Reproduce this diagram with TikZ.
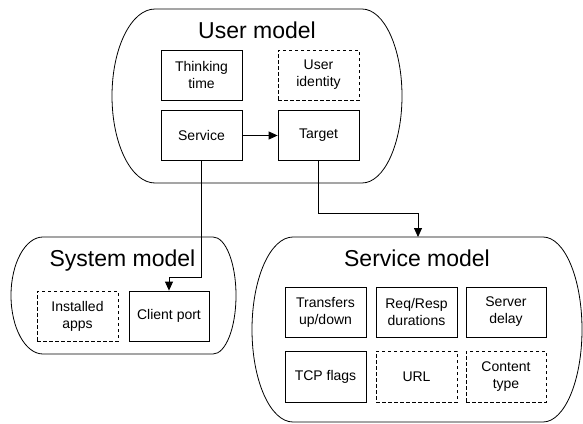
\documentclass[tikz,border=0pt]{standalone}
\usepackage{fontspec}
\setmainfont{Liberation Sans}
\usetikzlibrary{arrows.meta}
\begin{document}
\begin{tikzpicture}[x=1pt,y=1pt,
  cont/.style={draw, line width=0.8pt},
  box/.style={draw, line width=0.8pt, minimum width=81pt, minimum height=50pt, inner sep=0pt,
    align=center, font=\fontsize{14pt}{17pt}\selectfont},
  dbox/.style={box, dash pattern=on 3.5pt off 2.5pt},
  title/.style={anchor=base, inner sep=0pt, font=\fontsize{23pt}{27pt}\selectfont},
  conn/.style={draw, line width=0.8pt, -{Triangle[length=9pt,width=8pt]}}]
\useasboundingbox (0,0) rectangle (583,-423);
% containers
\draw[cont] (155,-9) -- (362,-9) arc[start angle=90,end angle=-90,x radius=40,y radius=87]
  -- (155,-183) arc[start angle=270,end angle=90,x radius=43,y radius=87] -- cycle;
\draw[cont] (43,-237) -- (213,-237) arc[start angle=90,end angle=-90,x radius=23,y radius=58.5]
  -- (43,-354) arc[start angle=270,end angle=90,x radius=32,y radius=58.5] -- cycle;
\draw[cont] (293,-237) -- (543,-237) arc[start angle=90,end angle=-90,x radius=39,y radius=92.5]
  -- (293,-422) arc[start angle=270,end angle=90,x radius=41,y radius=92.5] -- cycle;
\coordinate (smtop) at (418,-237);
% titles
\node[title] (ut) at (257,-38) {User model};
\node[title] (syt) at (122.5,-266) {System model};
\node[title] (set) at (417,-266) {Service model};
% user model boxes
\node[box] (think) at (201.5,-75) {Thinking\\time};
\node[dbox] (uid) at (318.5,-75) {User\\identity};
\node[box] (svc) at (201.5,-135.5) {Service};
\node[box] (tgt) at (318.5,-135.5) {Target};
% system model boxes
\node[dbox] (apps) at (77.5,-316) {Installed\\apps};
\node[box, minimum width=80pt] (cport) at (169,-316) {Client port};
% service model boxes
\node[box] (xfer) at (325.5,-312) {Transfers\\up/down};
\node[box] (req) at (416.5,-312) {Req/Resp\\durations};
\node[box, minimum width=80pt] (sdel) at (506,-312) {Server\\delay};
\node[box, minimum height=51pt] (tcp) at (325.5,-376.5) {TCP flags};
\node[dbox, minimum height=51pt] (url) at (416.5,-376.5) {URL};
\node[dbox, minimum width=80pt, minimum height=51pt] (ctype) at (506,-376.5) {Content\\type};
% connectors
\draw[conn] (svc) -- (tgt);
\draw[conn] (svc.south) -- (svc.south |- 0,-277) -| (cport.north);
\draw[conn] (tgt.south) -- (tgt.south |- 0,-213) -| (smtop);
\end{tikzpicture}
\end{document}
